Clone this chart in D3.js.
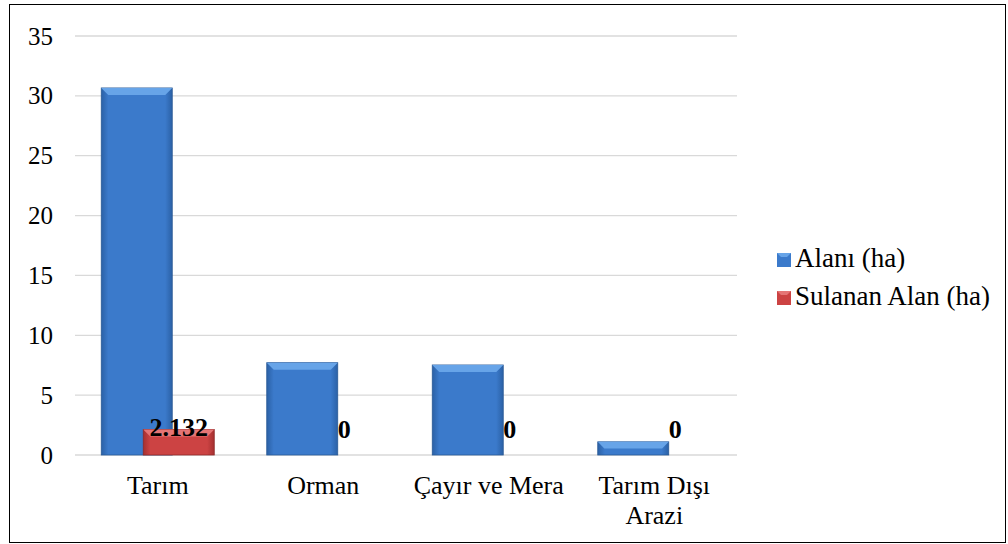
<!DOCTYPE html>
<html>
<head>
<meta charset="utf-8">
<style>
    body { margin: 0; background: #fff; }
    .grid line { stroke: #d9d9d9; stroke-width: 1.3; }
</style>
</head>
<body>
<script src="https://cdn.jsdelivr.net/npm/d3@7/dist/d3.min.js"></script>
<script>

var categories = ["Tarım", "Orman", "Çayır ve Mera", "Tarım Dışı|Arazi"];
var seriesNames = ["Alanı (ha)", "Sulanan Alan (ha)"];
var alani = [30.66, 7.71, 7.52, 1.1];
var sulanan = [2.132, 0, 0, 0];
var sulananLabels = ["2.132", "0", "0", "0"];
var yTicks = [0, 5, 10, 15, 20, 25, 30, 35];

var W = 1008, H = 544;
var plotLeft = 75, plotRight = 737, plotTop = 36, plotBottom = 455;
var serif = "'Liberation Serif', 'DejaVu Serif', serif";

var svg = d3.select("body").append("svg")
        .attr("width", W)
        .attr("height", H)
        .style("font-family", serif);

//gradients for bevel look
var defs = svg.append("defs");
function grad(id, edge, mid) {
    var g = defs.append("linearGradient").attr("id", id)
        .attr("x1", "0").attr("x2", "1").attr("y1", "0").attr("y2", "0");
    g.append("stop").attr("offset", "0").attr("stop-color", edge);
    g.append("stop").attr("offset", "0.1").attr("stop-color", mid);
    g.append("stop").attr("offset", "0.9").attr("stop-color", mid);
    g.append("stop").attr("offset", "1").attr("stop-color", edge);
}
grad("gBlue", "#2b61a6", "#3b7acb");
grad("gRed", "#a53030", "#cc4343");

//outer frame
svg.append("rect")
    .attr("x", 9.5).attr("y", 4.5)
    .attr("width", 996).attr("height", 538)
    .attr("fill", "none").attr("stroke", "#000").attr("stroke-width", 1);

var x = d3.scaleBand().domain(categories).range([plotLeft, plotRight]);
var y = d3.scaleLinear().domain([0, 35]).range([plotBottom, plotTop]);

//grid
svg.append("g").attr("class", "grid")
    .selectAll("line").data(yTicks).enter().append("line")
    .attr("x1", plotLeft).attr("x2", plotRight)
    .attr("y1", function(d) { return y(d); })
    .attr("y2", function(d) { return y(d); });

//y axis labels
svg.append("g")
    .selectAll("text").data(yTicks).enter().append("text")
    .style("font-family", serif).style("font-size", "25px")
    .attr("x", 53).attr("y", function(d) { return y(d) + 8.5; })
    .attr("text-anchor", "end")
    .text(function(d) { return d; });

var barW = 71, off = 21;

function drawBars(vals, dx, gid, light, dark) {
    var g = svg.append("g");
    vals.forEach(function(v, i) {
        var cx = x(categories[i]) + x.bandwidth() / 2 + dx;
        var x0 = cx - barW / 2, x1 = cx + barW / 2;
        var y0 = y(v), y1 = y(0);
        if (y1 - y0 < 0.5) return;
        g.append("rect")
            .attr("x", x0).attr("y", y0)
            .attr("width", barW).attr("height", y1 - y0)
            .attr("fill", "url(#" + gid + ")")
            .attr("stroke", dark).attr("stroke-width", 0.8);
        var b = Math.min(7, (y1 - y0) / 2);
        g.append("polygon")
            .attr("points", [[x0, y0], [x1, y0], [x1 - b, y0 + b], [x0 + b, y0 + b]].join(" "))
            .attr("fill", light);
    });
}
drawBars(alani, -off, "gBlue", "#67a4e8", "#2a5a96");
drawBars(sulanan, off, "gRed", "#e57575", "#8f2a2a");

//value labels
svg.append("g").selectAll("text").data(sulanan).enter().append("text")
    .style("font-family", serif).style("font-size", "26px").style("font-weight", "bold")
    .attr("x", function(d, i) { return x(categories[i]) + x.bandwidth() / 2 + off; })
    .attr("y", function(d) { return Math.min(y(d) + 7, 438); })
    .attr("text-anchor", "middle")
    .text(function(d, i) { return sulananLabels[i]; });

//category labels
var cl = svg.append("g");
categories.forEach(function(c) {
    var t = cl.append("text")
        .style("font-family", serif).style("font-size", "26px")
        .attr("x", x(c) + x.bandwidth() / 2)
        .attr("y", 494)
        .attr("text-anchor", "middle");
    c.split("|").forEach(function(part, k) {
        t.append("tspan")
            .attr("x", x(c) + x.bandwidth() / 2)
            .attr("dy", k === 0 ? 0 : 30)
            .text(part);
    });
});

//legend
var leg = svg.append("g");
var legFills = [["#3b7acb", "#67a4e8"], ["#cc4343", "#e57575"]];
seriesNames.forEach(function(s, i) {
    var ly = 253 + i * 38;
    leg.append("rect")
        .attr("x", 777).attr("y", ly).attr("width", 14).attr("height", 14)
        .attr("fill", legFills[i][0]);
    leg.append("polygon")
        .attr("points", [[777, ly], [791, ly], [787, ly + 4], [781, ly + 4]].join(" "))
        .attr("fill", legFills[i][1]);
    leg.append("text")
        .style("font-family", serif).style("font-size", "27px")
        .attr("x", 795).attr("y", ly + 14)
        .text(s);
});

</script>
</body>
</html>
